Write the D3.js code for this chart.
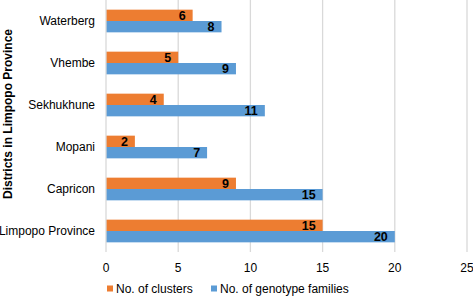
<!DOCTYPE html>
<html>
<head>
<meta charset="utf-8">
<script src="https://cdn.jsdelivr.net/npm/d3@7"></script>
<style>
  body { margin: 0; background: #fff; }
  svg { font-family: "Liberation Sans", Arial, sans-serif; }
</style>
</head>
<body>
<svg id="chart" width="473" height="298"></svg>
<script>
// chart values
const districts = ["Waterberg", "Vhembe", "Sekhukhune", "Mopani", "Capricon", "Limpopo Province"];
const clusters = [6, 5, 4, 2, 9, 15];
const genotypeFamilies = [8, 9, 11, 7, 15, 20];
const xTicks = [0, 5, 10, 15, 20, 25];
const seriesNames = ["No. of clusters", "No. of genotype families"];
const seriesColors = ["#ED7D31", "#5B9BD5"];

const svg = d3.select("#chart");
const margin = { top: 0, left: 106, right: 6, bottom: 46 };
const width = 473 - margin.left - margin.right;
const height = 298 - margin.top - margin.bottom;

const rows = districts.map((d, i) => ({ district: d, values: [clusters[i], genotypeFamilies[i]] }));

const x = d3.scaleLinear().domain([0, 25]).range([margin.left, margin.left + width]);
const y = d3.scaleBand().domain(districts).range([margin.top, margin.top + height])
  .paddingInner(0.46).paddingOuter(0.23);
const ySub = d3.scaleBand().domain([0, 1]).range([0, y.bandwidth()]);

// gridlines
svg.append("g")
  .selectAll("line")
  .data(xTicks.slice(1))
  .join("line")
  .attr("x1", d => x(d)).attr("x2", d => x(d))
  .attr("y1", margin.top).attr("y2", margin.top + height)
  .attr("stroke", "#d9d9d9").attr("stroke-width", 1.3);

// bars
const groups = svg.append("g")
  .selectAll("g")
  .data(rows)
  .join("g")
  .attr("transform", d => `translate(0, ${y(d.district)})`);

groups.selectAll("rect")
  .data(d => d.values.map((v, k) => ({ v, k })))
  .join("rect")
  .attr("x", x(0))
  .attr("y", d => ySub(d.k))
  .attr("width", d => x(d.v) - x(0))
  .attr("height", ySub.bandwidth())
  .attr("fill", d => seriesColors[d.k]);

groups.selectAll("text")
  .data(d => d.values.map((v, k) => ({ v, k })))
  .join("text")
  .attr("x", d => x(d.v) - 7)
  .attr("y", d => ySub(d.k) + ySub.bandwidth() / 2 + 4.5)
  .attr("text-anchor", "end")
  .attr("font-size", 12.5)
  .attr("font-weight", "bold")
  .attr("fill", "#000")
  .text(d => d.v);

// y axis line
svg.append("line")
  .attr("x1", x(0)).attr("x2", x(0))
  .attr("y1", margin.top).attr("y2", margin.top + height)
  .attr("stroke", "#d9d9d9").attr("stroke-width", 1.3);

// category labels
svg.append("g")
  .selectAll("text")
  .data(districts)
  .join("text")
  .attr("x", 95)
  .attr("y", d => y(d) + y.bandwidth() / 2 + 4)
  .attr("text-anchor", "end")
  .attr("font-size", 12)
  .attr("fill", "#000")
  .text(d => d);

// x tick labels
svg.append("g")
  .selectAll("text")
  .data(xTicks)
  .join("text")
  .attr("x", d => x(d))
  .attr("y", 272)
  .attr("text-anchor", "middle")
  .attr("font-size", 12)
  .attr("fill", "#000")
  .text(d => d);

// y axis title
svg.append("text")
  .attr("transform", "translate(12, 114) rotate(-90)")
  .attr("text-anchor", "middle")
  .attr("font-size", 12)
  .attr("font-weight", "bold")
  .attr("fill", "#000")
  .text("Districts in Limpopo Province");

// legend
const legendX = [107, 211];
const legend = svg.append("g")
  .selectAll("g")
  .data(seriesNames)
  .join("g")
  .attr("transform", (d, i) => `translate(${legendX[i]}, 289)`);

legend.append("rect")
  .attr("x", 0).attr("y", -3.5)
  .attr("width", 6).attr("height", 6)
  .attr("fill", (d, i) => seriesColors[i]);

legend.append("text")
  .attr("x", 9).attr("y", 4)
  .attr("font-size", 12)
  .attr("fill", "#000")
  .text(d => d);
</script>
</body>
</html>
